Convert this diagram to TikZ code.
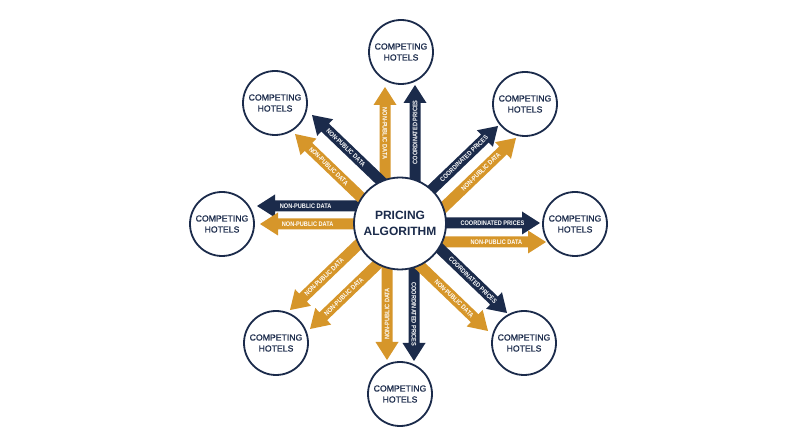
\documentclass[tikz,border=0pt]{standalone}
\usepackage{fontspec}
\setmainfont{Liberation Sans}
\newfontfamily\arrfont{Liberation Sans}[FakeStretch=0.85]
\newfontfamily\hotelfont{Liberation Sans}[FakeBold=0.8]
\usetikzlibrary{calc}
\definecolor{navy}{HTML}{1B2B4B}
\definecolor{gold}{HTML}{D6962A}
\newcommand\fatarrow[6]{%
  \fill[#1] let \p1=(#2), \p2=(#3), \n1={atan2(\y2-\y1,\x2-\x1)}, \n2={veclen(\x2-\x1,\y2-\y1)-18} in
    ($(\p1)+(\n1+90:5.5)$) -- ($(\p1)+(\n1:\n2)+(\n1+90:5.5)$) -- ($(\p1)+(\n1:\n2)+(\n1+90:11.5)$) -- (\p2)
    -- ($(\p1)+(\n1:\n2)+(\n1-90:11.5)$) -- ($(\p1)+(\n1:\n2)+(\n1-90:5.5)$) -- ($(\p1)+(\n1-90:5.5)$) -- cycle;
  \path (#2) -- (#3) node[lbl, name=#4, rotate=#5] {#6};
}
\begin{document}
\begin{tikzpicture}[x=1pt,y=1pt,
  hotel/.style={circle, draw=navy, line width=1.8pt, fill=white, minimum size=64pt, inner sep=0pt, align=center, text=navy, font=\hotelfont\fontsize{8.7}{11}\selectfont},
  hub/.style={circle, draw=navy, line width=1.8pt, fill=white, minimum size=92pt, inner sep=0pt, align=center, text=navy, font=\bfseries\fontsize{12}{15.5}\selectfont},
  lbl/.style={pos=0.66, inner sep=0pt, text=white, font=\arrfont\bfseries\fontsize{6.6}{7}\selectfont}
]
\fill[white] (0,0) rectangle (800,447);
\useasboundingbox (0,0) rectangle (800,447);

% arrow end coordinates
\coordinate (tO0) at (385,223);   \coordinate (tO1) at (385,360);
\coordinate (tN0) at (415,223);   \coordinate (tN1) at (415,362);
\coordinate (bO0) at (387,223);   \coordinate (bO1) at (387,87);
\coordinate (bN0) at (414,223);   \coordinate (bN1) at (414,86);
\coordinate (lN0) at (400,241);   \coordinate (lN1) at (257,241);
\coordinate (lO0) at (400,223);   \coordinate (lO1) at (260,223);
\coordinate (rN0) at (400,224);   \coordinate (rN1) at (540,224);
\coordinate (rO0) at (400,205);   \coordinate (rO1) at (546,205);
\coordinate (tlN0) at (411.8,236.4); \coordinate (tlN1) at (312,332);
\coordinate (tlO0) at (394.1,218);   \coordinate (tlO1) at (295,313);
\coordinate (trN0) at (398.1,225.2); \coordinate (trN1) at (498,321);
\coordinate (trO0) at (412.8,210);   \coordinate (trO1) at (516,309);
\coordinate (blA0) at (390.4,233.3); \coordinate (blA1) at (290,137);
\coordinate (blB0) at (409.5,213.5); \coordinate (blB1) at (310,118);
\coordinate (brN0) at (406.6,230.3); \coordinate (brN1) at (507,134);
\coordinate (brO0) at (388.6,211.4); \coordinate (brO1) at (488,116);

% arrows
\fatarrow{gold}{tO0}{tO1}{ltO}{-90}{NON-PUBLIC DATA}
\fatarrow{navy}{tN0}{tN1}{ltN}{90}{COORDINATED PRICES}
\fatarrow{gold}{bO0}{bO1}{lbO}{90}{NON-PUBLIC DATA}
\fatarrow{navy}{bN0}{bN1}{lbN}{-90}{COORDINATED PRICES}
\fatarrow{navy}{lN0}{lN1}{llN}{0}{NON-PUBLIC DATA}
\fatarrow{gold}{lO0}{lO1}{llO}{0}{NON-PUBLIC DATA}
\fatarrow{navy}{rN0}{rN1}{lrN}{0}{COORDINATED PRICES}
\fatarrow{gold}{rO0}{rO1}{lrO}{0}{NON-PUBLIC DATA}
\fatarrow{navy}{tlN0}{tlN1}{ltlN}{-44}{NON-PUBLIC DATA}
\fatarrow{gold}{tlO0}{tlO1}{ltlO}{-44}{NON-PUBLIC DATA}
\fatarrow{navy}{trN0}{trN1}{ltrN}{44}{COORDINATED PRICES}
\fatarrow{gold}{trO0}{trO1}{ltrO}{44}{NON-PUBLIC DATA}
\fatarrow{gold}{blA0}{blA1}{lblA}{44}{NON-PUBLIC DATA}
\fatarrow{gold}{blB0}{blB1}{lblB}{44}{NON-PUBLIC DATA}
\fatarrow{navy}{brN0}{brN1}{lbrN}{-44}{COORDINATED PRICES}
\fatarrow{gold}{brO0}{brO1}{lbrO}{-44}{NON-PUBLIC DATA}

% circles
\node[hub] (hub) at (400,223.5) {PRICING\\ALGORITHM};
\node[hotel] (hT)  at (401,395) {COMPETING\\HOTELS};
\node[hotel] (hTL) at (275,344) {COMPETING\\HOTELS};
\node[hotel] (hTR) at (525,343) {COMPETING\\HOTELS};
\node[hotel] (hL)  at (222,223) {COMPETING\\HOTELS};
\node[hotel] (hR)  at (575,223) {COMPETING\\HOTELS};
\node[hotel] (hBL) at (276,104) {COMPETING\\HOTELS};
\node[hotel] (hBR) at (524,104) {COMPETING\\HOTELS};
\node[hotel] (hB)  at (400,53)  {COMPETING\\HOTELS};
\end{tikzpicture}
\end{document}
